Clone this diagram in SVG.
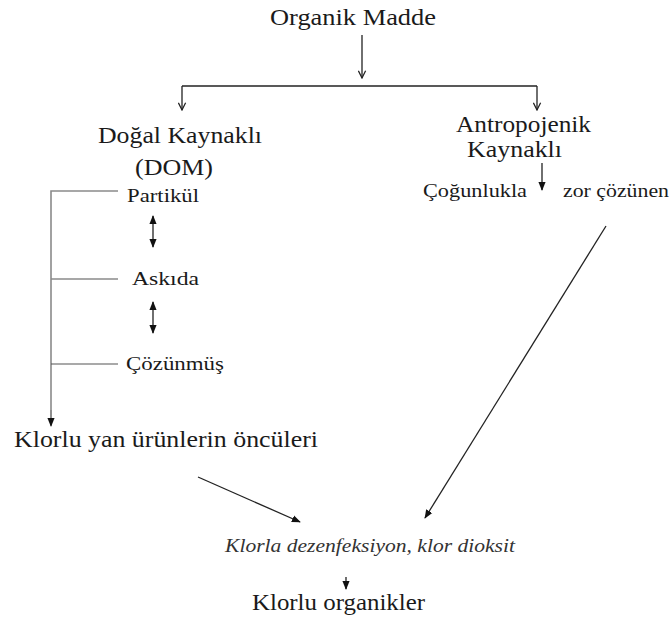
<svg xmlns="http://www.w3.org/2000/svg" width="672" height="622" viewBox="0 0 672 622">
<style>
text{fill:#1a1a1a;font-family:"Liberation Serif","Times New Roman",serif}
.big{font-size:24px}
.mid{font-size:18px}
.it{font-size:18px;font-style:italic;fill:#333}
.ln{stroke:#222;stroke-width:1.3;fill:none}
.gr{stroke:#8a8a8a;stroke-width:1.6;fill:none}
</style>
<defs>
<marker id="open" viewBox="0 0 10 10" refX="9" refY="5" markerWidth="9" markerHeight="9" markerUnits="userSpaceOnUse" orient="auto-start-reverse">
<path d="M1,1 L9,5 L1,9" fill="none" stroke="#222" stroke-width="1.4"/>
</marker>
<marker id="fill" viewBox="0 0 10 10" refX="9" refY="5" markerWidth="9" markerHeight="9" markerUnits="userSpaceOnUse" orient="auto-start-reverse">
<path d="M0,1 L10,5 L0,9 Z" fill="#111"/>
</marker>
</defs>
<g id="connectors">
<line class="ln" x1="362" y1="35" x2="362" y2="78" marker-end="url(#open)"/>
<path class="ln" d="M182,86 H537"/>
<line class="ln" x1="182" y1="86" x2="182" y2="110" marker-end="url(#open)"/>
<line class="ln" x1="537" y1="86" x2="537" y2="110" marker-end="url(#open)"/>
<path class="gr" d="M118,191 H51 V420"/>
<line class="gr" x1="51" y1="410" x2="51" y2="426" marker-end="url(#fill)"/>
<line class="gr" x1="51" y1="279" x2="118" y2="279"/>
<line class="gr" x1="51" y1="364" x2="118" y2="364" style="stroke:#555;stroke-width:1.2"/>
<line class="ln" x1="153" y1="216" x2="153" y2="247" marker-start="url(#fill)" marker-end="url(#fill)"/>
<line class="ln" x1="153" y1="302" x2="153" y2="333" marker-start="url(#fill)" marker-end="url(#fill)"/>
<line class="ln" x1="542" y1="163" x2="542" y2="190" marker-end="url(#fill)"/>
<line class="ln" x1="606" y1="226" x2="425" y2="518" marker-end="url(#fill)"/>
<line class="ln" x1="198" y1="477" x2="300" y2="522" marker-end="url(#fill)"/>
<line class="ln" x1="346" y1="577" x2="346" y2="589" marker-end="url(#fill)"/>
</g>
<g id="organik-madde"><text class="big" x="270" y="25" textLength="166" lengthAdjust="spacingAndGlyphs">Organik Madde</text></g>
<g id="dogal">
<text class="big" x="98" y="143" textLength="164" lengthAdjust="spacingAndGlyphs">Doğal Kaynaklı</text>
<text class="big" x="135" y="175" textLength="78" lengthAdjust="spacingAndGlyphs">(DOM)</text>
</g>
<g id="partikul"><text class="mid" x="127" y="202" textLength="72" lengthAdjust="spacingAndGlyphs">Partikül</text></g>
<g id="askida"><text class="mid" x="132" y="285" textLength="67" lengthAdjust="spacingAndGlyphs">Askıda</text></g>
<g id="cozunmus"><text class="mid" x="126" y="370" textLength="98" lengthAdjust="spacingAndGlyphs">Çözünmüş</text></g>
<g id="onculer"><text class="big" x="14" y="447" textLength="304" lengthAdjust="spacingAndGlyphs">Klorlu yan ürünlerin öncüleri</text></g>
<g id="antropojenik">
<text class="big" x="456" y="132" textLength="135" lengthAdjust="spacingAndGlyphs">Antropojenik</text>
<text class="big" x="467" y="157" textLength="95" lengthAdjust="spacingAndGlyphs">Kaynaklı</text>
</g>
<g id="cogunlukla"><text class="mid" x="423" y="197" textLength="104" lengthAdjust="spacingAndGlyphs">Çoğunlukla</text></g>
<g id="zor"><text class="mid" x="563" y="197" textLength="106" lengthAdjust="spacingAndGlyphs">zor çözünen</text></g>
<g id="dezenfeksiyon"><text class="it" x="225" y="552" textLength="290" lengthAdjust="spacingAndGlyphs">Klorla dezenfeksiyon, klor dioksit</text></g>
<g id="klorlu-organikler"><text class="big" x="252" y="610" textLength="173" lengthAdjust="spacingAndGlyphs">Klorlu organikler</text></g>
</svg>
